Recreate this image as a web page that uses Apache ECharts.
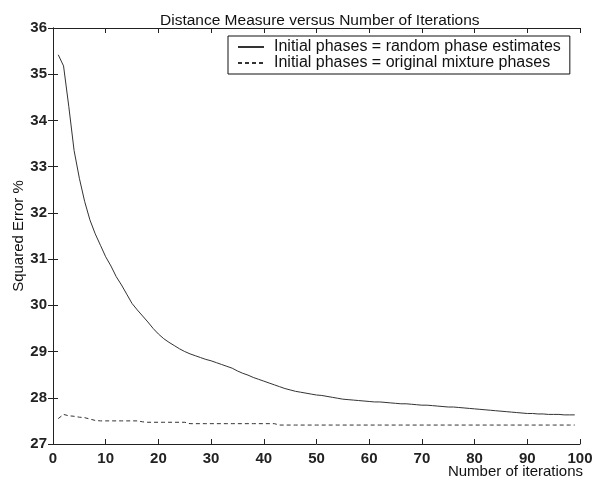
<!DOCTYPE html>
<html>
<head>
<meta charset="utf-8">
<script src="https://cdn.jsdelivr.net/npm/echarts@6/dist/echarts.min.js"></script>
<style>
  html, body { margin: 0; padding: 0; background: #fff; }
  #chart { width: 593px; height: 479px; }
</style>
</head>
<body>
<div id="chart"></div>
<script>
// iterations 1..99
var iterations = [];
for (var i = 1; i <= 99; i++) { iterations.push(i); }

// Initial phases = random phase estimates (solid)
var randomPhase = [
  35.42, 35.18, 34.30, 33.35, 32.75, 32.25, 31.85, 31.55, 31.30, 31.05,
  30.85, 30.62, 30.44, 30.24, 30.04, 29.90, 29.77, 29.64, 29.50, 29.38,
  29.28, 29.20, 29.13, 29.06, 29.00, 28.95, 28.91, 28.87, 28.83, 28.80,
  28.76, 28.72, 28.68, 28.64, 28.58, 28.53, 28.49, 28.44, 28.40, 28.36,
  28.32, 28.28, 28.24, 28.20, 28.17, 28.14, 28.12, 28.10, 28.08, 28.06,
  28.05, 28.03, 28.01, 27.99, 27.97, 27.96, 27.95, 27.94, 27.93, 27.92,
  27.91, 27.91, 27.90, 27.89, 27.88, 27.87, 27.87, 27.86, 27.85, 27.84,
  27.84, 27.83, 27.82, 27.81, 27.80, 27.80, 27.79, 27.78, 27.77, 27.76,
  27.75, 27.74, 27.73, 27.72, 27.71, 27.70, 27.69, 27.68, 27.67, 27.66,
  27.66, 27.65, 27.65, 27.64, 27.64, 27.64, 27.63, 27.63, 27.63
];

// Initial phases = original mixture phases (dashed)
var mixturePhase = [
  27.55, 27.64, 27.61, 27.60, 27.58, 27.57, 27.54, 27.51, 27.50, 27.50,
  27.50, 27.50, 27.50, 27.50, 27.50, 27.50, 27.48, 27.47, 27.47, 27.47,
  27.47, 27.47, 27.47, 27.47, 27.47, 27.44, 27.44, 27.44, 27.44, 27.44,
  27.44, 27.44, 27.44, 27.44, 27.44, 27.44, 27.44, 27.44, 27.44, 27.44,
  27.44, 27.44, 27.41, 27.41, 27.41, 27.41, 27.41, 27.41, 27.41, 27.41,
  27.41, 27.41, 27.41, 27.41, 27.41, 27.41, 27.41, 27.41, 27.41, 27.41,
  27.41, 27.41, 27.41, 27.41, 27.41, 27.41, 27.41, 27.41, 27.41, 27.41,
  27.41, 27.41, 27.41, 27.41, 27.41, 27.41, 27.41, 27.41, 27.41, 27.41,
  27.41, 27.41, 27.41, 27.41, 27.41, 27.41, 27.41, 27.41, 27.41, 27.41,
  27.41, 27.41, 27.41, 27.41, 27.41, 27.41, 27.41, 27.41, 27.41
];

var seriesNames = [
  'Initial phases = random phase estimates',
  'Initial phases = original mixture phases'
];

function pairs(ys) {
  var out = [];
  for (var k = 0; k < ys.length; k++) { out.push([iterations[k], ys[k]]); }
  return out;
}

var font = 'Liberation Sans, Arial, sans-serif';
var axisCol = '#222';

var chart = echarts.init(document.getElementById('chart'), null, { renderer: 'canvas' });

// mirror axes give the box its top/right ticks
function boxAxis(pos, isX) {
  return {
    type: 'value', position: pos, min: isX ? 0 : 27, max: isX ? 100 : 36, interval: isX ? 10 : 1,
    axisLine: { show: true, lineStyle: { color: axisCol, width: 1 } },
    axisTick: { show: true, inside: true, length: 5, lineStyle: { color: axisCol } },
    axisLabel: { show: false },
    splitLine: { show: false }
  };
}

var xMain = boxAxis('bottom', true);
xMain.axisLabel = { show: true, fontFamily: font, fontSize: 15, fontWeight: 'bold', color: '#222', margin: 7 };

var yMain = boxAxis('left', false);
yMain.axisLabel = { show: true, fontFamily: font, fontSize: 15, fontWeight: 'bold', color: '#222', margin: 6 };
yMain.name = 'Squared Error %';
yMain.nameLocation = 'middle';
yMain.nameGap = 27;
yMain.nameMoveOverlap = false;
yMain.nameTextStyle = { fontFamily: font, fontSize: 15, color: '#111' };

chart.setOption({
  backgroundColor: '#fff',
  animation: false,
  title: [
    {
      text: 'Distance Measure versus Number of Iterations',
      left: 155, top: 8,
      textStyle: { fontFamily: font, fontSize: 15.5, fontWeight: 'normal', color: '#111' }
    },
    {
      text: 'Number of iterations',
      right: 10, top: 464, padding: 0,
      textStyle: { fontFamily: font, fontSize: 15, fontWeight: 'normal', color: '#111' }
    }
  ],
  legend: {
    data: seriesNames,
    orient: 'vertical',
    left: 228, top: 36,
    itemWidth: 26, itemHeight: 14, itemGap: 0,
    padding: [3, 9, 3, 9],
    borderColor: '#111', borderWidth: 1,
    backgroundColor: '#fff',
    itemStyle: { opacity: 0 },
    textStyle: { fontFamily: font, fontSize: 16, color: '#111', padding: [0, 0, 0, 5] }
  },
  grid: { left: 53, right: 13, top: 28, bottom: 35, containLabel: false, outerBoundsMode: 'none' },
  xAxis: [xMain, boxAxis('top', true)],
  yAxis: [yMain, boxAxis('right', false)],
  series: [
    {
      name: seriesNames[0], type: 'line', data: pairs(randomPhase),
      showSymbol: false, symbol: 'none',
      lineStyle: { color: '#333', width: 1, type: 'solid' },
      itemStyle: { color: '#333' }
    },
    {
      name: seriesNames[1], type: 'line', data: pairs(mixturePhase),
      showSymbol: false, symbol: 'none',
      lineStyle: { color: '#333', width: 1, type: [4, 3] },
      itemStyle: { color: '#333' }
    }
  ]
});
</script>
</body>
</html>
